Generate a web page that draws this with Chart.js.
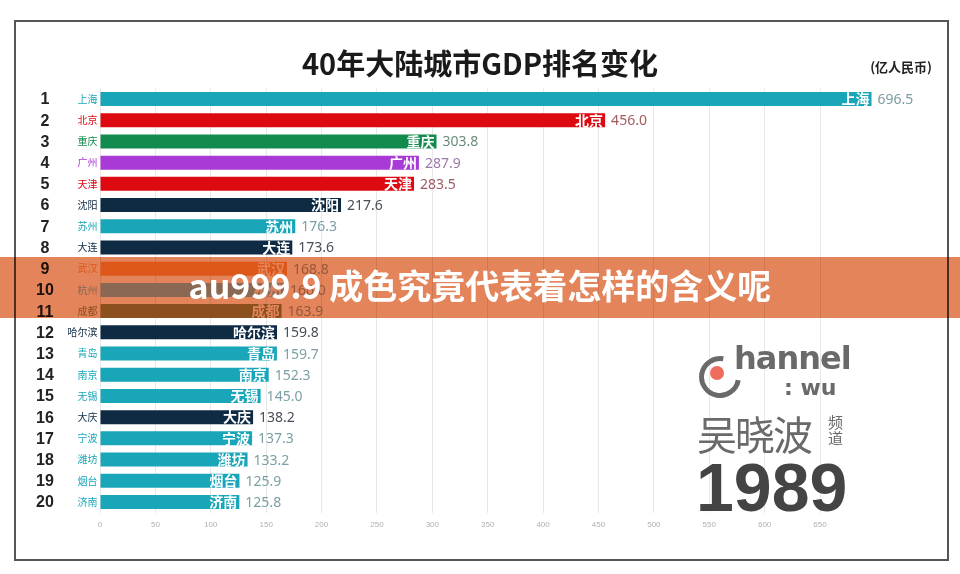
<!DOCTYPE html>
<html>
<head>
<meta charset="utf-8">
<script src="https://cdn.jsdelivr.net/npm/chart.js@4"></script>
<style>
  body { margin: 0; background: #fff; }
  #wrap { position: relative; width: 960px; height: 574px; overflow: hidden; background: #fff; }
  #frame { position: absolute; left: 14px; top: 20px; width: 931px; height: 537px; border: 2px solid #555; }
  #chart { position: absolute; left: 0; top: 0; }
  #title { position: absolute; left: 0; width: 960px; top: 41px; text-align: center;
    font: bold 29px "Noto Sans CJK SC", sans-serif; color: #1a1a1a; }
  #unit { position: absolute; right: 28px; top: 57px; font: bold 13px "Noto Sans CJK SC", sans-serif; color: #222; }
  #band { position: absolute; left: 0; top: 257px; width: 960px; height: 61px; background: rgb(227,132,90); mix-blend-mode: multiply; }
  #bandText { position: absolute; left: 0; top: 260px; width: 960px; text-align: center; color: #fff;
    font: bold 34px "Noto Sans CJK SC", sans-serif; }
  .logo { position: absolute; color: #6a6a6a; }
  #ring { left: 699px; top: 356px; width: 32px; height: 32px; border: 5px solid #6a6a6a; border-right-color: transparent;
    border-radius: 50%; transform: rotate(-35deg); }
  #dot { left: 710px; top: 366px; width: 14px; height: 14px; border-radius: 50%; background: #ee6c5c; }
  #hannel { left: 734px; top: 339px; font: bold 32px "DejaVu Sans", sans-serif; letter-spacing: -1px; }
  #wu { left: 784px; top: 375px; font: bold 22px "DejaVu Sans", sans-serif; }
  #wxb { left: 697px; top: 404px; font: 40px "Noto Sans CJK SC", sans-serif; letter-spacing: -2px; }
  #pd { left: 828px; top: 414px; width: 16px; font: 15px "Noto Sans CJK SC", sans-serif; line-height: 16px; }
  #year { left: 696px; top: 448px; font: bold 68px "Liberation Sans", sans-serif; color: #444; }
</style>
</head>
<body>
<div id="wrap">
  <canvas id="chart" width="960" height="574"></canvas>
  <div id="frame"></div>
  <div id="title">40年大陆城市GDP排名变化</div>
  <div id="unit">(亿人民币)</div>
  <div class="logo" id="ring"></div>
  <div class="logo" id="dot"></div>
  <div class="logo" id="hannel">hannel</div>
  <div class="logo" id="wu">: wu</div>
  <div class="logo" id="wxb">吴晓波</div>
  <div class="logo" id="pd">频道</div>
  <div class="logo" id="year">1989</div>
  <div id="band"></div>
  <div id="bandText">au999.9 成色究竟代表着怎样的含义呢</div>
</div>
<script>
// données (GDP 1989, en 亿人民币)
var ranks = [1, 2, 3, 4, 5, 6, 7, 8, 9, 10, 11, 12, 13, 14, 15, 16, 17, 18, 19, 20];
var cities = ["上海", "北京", "重庆", "广州", "天津", "沈阳", "苏州", "大连", "武汉", "杭州",
  "成都", "哈尔滨", "青岛", "南京", "无锡", "大庆", "宁波", "潍坊", "烟台", "济南"];
var gdp = [696.5, 456.0, 303.8, 287.9, 283.5, 217.6, 176.3, 173.6, 168.8, 166.0,
  163.9, 159.8, 159.7, 152.3, 145.0, 138.2, 137.3, 133.2, 125.9, 125.8];
var xTicks = [0, 50, 100, 150, 200, 250, 300, 350, 400, 450, 500, 550, 600, 650];

// couleurs
var teal = "#19a6b9", red = "#dd0a12", green = "#138a4e", purple = "#a83ad6", navy = "#0f2b44";
var barColors = [teal, red, green, purple, red, navy, teal, navy, "#f7a845", "#9cc8ea",
  "#9c9a55", navy, teal, teal, teal, navy, teal, teal, teal, teal];
var labelColors = [teal, red, green, purple, red, navy, teal, navy, "#f7a845", "#9cc8ea",
  "#9c9a55", navy, teal, teal, teal, navy, teal, teal, teal, teal];
var valueColors = ["#7a9ca1", "#a35a5c", "#6a8c79", "#9a7aa8", "#a05a62", "#474e57", "#7a9fa5", "#474e57",
  "#b0a8a0", "#a8a8a8", "#a8a8a8", "#474e57", "#7a9fa5", "#7a9fa5", "#7a9fa5", "#474e57",
  "#7a9fa5", "#7a9fa5", "#7a9fa5", "#7a9fa5"];

// dessine rangs, noms et valeurs autour de chaque barre
var barLabels = {
  id: "barLabels",
  afterDatasetsDraw: function(chart) {
    var ctx = chart.ctx;
    var meta = chart.getDatasetMeta(0);
    ctx.save();
    ctx.textBaseline = "middle";
    meta.data.forEach(function(bar, i) {
      var y = bar.y;
      // rang
      ctx.fillStyle = "#222";
      ctx.textAlign = "center";
      ctx.font = "bold 16px 'Liberation Sans', sans-serif";
      ctx.fillText(String(ranks[i]), 45, y + 1);
      // nom à gauche
      ctx.fillStyle = labelColors[i];
      ctx.textAlign = "right";
      ctx.font = "10px 'Noto Sans CJK SC', sans-serif";
      ctx.fillText(cities[i], bar.base - 3, y);
      // nom dans la barre
      ctx.fillStyle = "#fff";
      ctx.font = "bold 14px 'Noto Sans CJK SC', sans-serif";
      ctx.fillText(cities[i], bar.x - 2, y);
      // valeur
      ctx.fillStyle = valueColors[i];
      ctx.textAlign = "left";
      ctx.font = "14px 'Noto Sans', sans-serif";
      ctx.fillText(gdp[i].toFixed(1), bar.x + 6, y + 1);
    });
    ctx.restore();
  }
};

new Chart(document.getElementById("chart"), {
  type: "bar",
  data: {
    labels: cities,
    datasets: [{
      data: gdp,
      backgroundColor: barColors,
      borderWidth: 0,
      barPercentage: 0.66,
      categoryPercentage: 1
    }]
  },
  options: {
    indexAxis: "y",
    responsive: false,
    animation: false,
    devicePixelRatio: 1,
    layout: { padding: { left: 100, right: 84.6, top: 88.4, bottom: 41.4 } },
    plugins: { legend: { display: false }, tooltip: { enabled: false } },
    scales: {
      x: {
        min: 0,
        max: 700,
        afterBuildTicks: function(axis) {
          axis.ticks = xTicks.map(function(v) { return { value: v }; });
        },
        afterFit: function(axis) { axis.height = 20; },
        ticks: { color: "#b0b0b0", font: { size: 8, family: "Liberation Sans" }, padding: 7, maxRotation: 0 },
        grid: { color: "#e8e8e8", drawTicks: false },
        border: { display: false }
      },
      y: { display: false }
    }
  },
  plugins: [barLabels]
});
</script>
</body>
</html>
